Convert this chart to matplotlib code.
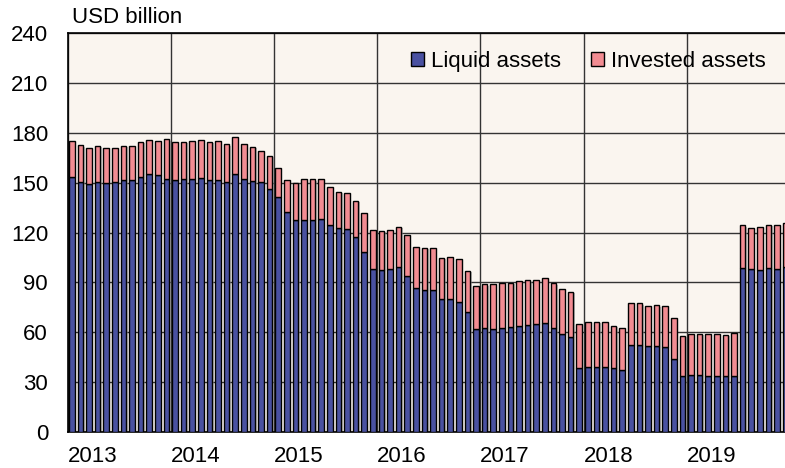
import matplotlib.pyplot as plt
import numpy as np

years = ["2013", "2014", "2015", "2016", "2017", "2018", "2019"]

liquid = [153.2, 150.6, 149.2, 150.6, 149.8, 150.2, 151.4, 151.4, 153.6, 155.0, 154.4, 152.2,
          151.8, 151.9, 152.4, 153.0, 151.4, 151.8, 150.6, 155.0, 151.9, 151.0, 150.2, 146.2,
          141.4, 132.1, 127.3, 127.7, 127.3, 128.3, 124.3, 122.7, 122.3, 117.1, 108.5, 97.9,
          97.3, 97.9, 99.2, 93.6, 86.6, 85.6, 85.6, 79.8, 79.8, 78.4, 72.0, 62.0,
          62.4, 62.2, 62.6, 63.2, 63.8, 64.4, 65.2, 65.8, 62.6, 58.9, 57.1, 38.3,
          39.1, 39.1, 39.1, 38.5, 37.5, 52.1, 52.1, 52.0, 51.7, 51.1, 44.1, 33.9,
          34.3, 34.3, 33.9, 33.7, 33.7, 33.7, 98.4, 97.9, 97.4, 98.4, 97.9, 99.0]

total = [175.2, 172.4, 170.6, 172.2, 171.0, 171.0, 172.2, 172.0, 174.4, 175.8, 175.0, 176.0,
         174.4, 174.6, 174.8, 175.4, 174.6, 175.2, 173.0, 177.2, 173.2, 171.4, 168.8, 166.0,
         159.0, 151.8, 150.0, 152.4, 152.0, 152.4, 147.4, 144.4, 144.0, 139.1, 131.5, 121.5,
         120.9, 121.3, 123.5, 118.7, 111.5, 110.9, 110.5, 104.8, 105.3, 103.9, 97.0, 87.8,
         88.8, 88.8, 89.6, 89.8, 90.6, 91.2, 91.6, 92.4, 89.4, 85.8, 84.2, 65.2,
         66.2, 66.4, 66.0, 63.8, 62.8, 77.4, 77.4, 75.8, 76.2, 75.6, 68.6, 57.9,
         58.9, 58.9, 58.9, 58.9, 58.5, 59.5, 124.3, 122.7, 123.1, 124.7, 124.3, 125.5]

liquid = np.array(liquid)
invested = np.array(total) - liquid
x = np.arange(len(liquid))

plt.rcParams['font.family'] = ['Liberation Sans', 'DejaVu Sans']

fig = plt.figure(figsize=(7.85, 4.68), dpi=100)
ax = fig.add_axes([0.086, 0.0769, 0.914, 0.8526])
ax.set_facecolor('#faf5ef')

blue = '#4a51a1'
pink = '#f28c92'
w = 0.66

# soft shadow behind the bars
ax.bar(x + 0.16, np.array(total), width=w, bottom=-0.8, color='#8c8c8c', alpha=0.55,
       linewidth=0, zorder=2)
ax.bar(x, liquid, width=w, color=blue, edgecolor='black', linewidth=1.0, zorder=3,
       label='Liquid assets')
ax.bar(x, invested, width=w, bottom=liquid, color=pink, edgecolor='black', linewidth=1.0,
       zorder=3, label='Invested assets')

ax.set_ylim(0, 240)
ax.set_yticks(range(0, 241, 30))
ax.set_xlim(-0.5, 82.93)

bounds = [i * 12 - 0.5 for i in range(len(years))]
ax.set_xticks(bounds)
ax.set_xticklabels(years, ha='left')
ax.tick_params(axis='both', length=0, labelsize=16, colors='black')
ax.tick_params(axis='y', pad=14)
ax.tick_params(axis='x', pad=10)

ax.grid(True, color='#333333', linewidth=1.0, zorder=1)
ax.set_axisbelow(True)
ax.spines['right'].set_visible(False)
for s in ['left', 'top', 'bottom']:
    ax.spines[s].set_linewidth(1.2)
    ax.spines[s].set_color('black')

ax.text(0.006, 1.012, 'USD billion', transform=ax.transAxes, fontsize=16, ha='left',
        va='bottom')

leg = ax.legend(loc='upper right', bbox_to_anchor=(0.995, 0.995), frameon=False,
                fontsize=16, handlelength=0.6, handleheight=0.6, handletextpad=0.3,
                columnspacing=1.35, ncol=2, borderaxespad=0.3)

fig.savefig('out.png', dpi=100)
